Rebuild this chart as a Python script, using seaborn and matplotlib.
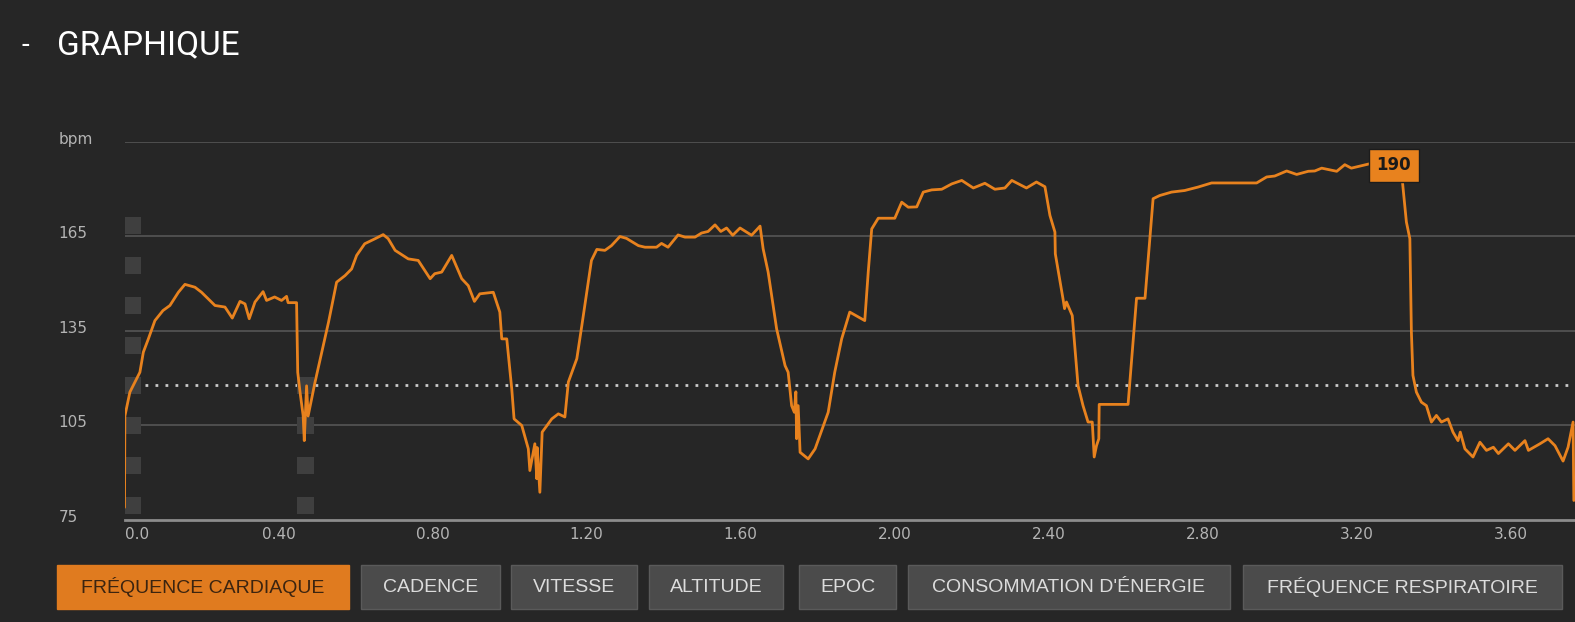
import matplotlib
matplotlib.use("Agg")
import matplotlib.pyplot as plt
import matplotlib.transforms as mtransforms
from matplotlib.patches import Rectangle
import seaborn as sns

# heart rate trace (x axis units as shown, bpm)
hr_x = [0.000, 0.001, 0.014, 0.040, 0.049, 0.062, 0.079, 0.100, 0.118, 0.140,
        0.157, 0.183, 0.200, 0.235, 0.261, 0.280, 0.300, 0.313, 0.324, 0.339,
        0.360, 0.369, 0.390, 0.408, 0.421, 0.425, 0.447, 0.450, 0.456, 0.464,
        0.467, 0.473, 0.477, 0.495, 0.530, 0.551, 0.573, 0.590, 0.603, 0.624,
        0.651, 0.672, 0.685, 0.703, 0.737, 0.763, 0.794, 0.806, 0.824, 0.850,
        0.876, 0.893, 0.909, 0.923, 0.958, 0.975, 0.980, 0.993, 1.006, 1.012,
        1.032, 1.049, 1.053, 1.066, 1.071, 1.072, 1.079, 1.085, 1.110, 1.127,
        1.144, 1.153, 1.175, 1.188, 1.213, 1.227, 1.248, 1.265, 1.287, 1.304,
        1.335, 1.352, 1.382, 1.395, 1.412, 1.438, 1.456, 1.482, 1.499, 1.516,
        1.534, 1.549, 1.564, 1.580, 1.599, 1.629, 1.651, 1.659, 1.672, 1.694,
        1.716, 1.724, 1.733, 1.740, 1.744, 1.746, 1.750, 1.755, 1.776, 1.794,
        1.828, 1.845, 1.863, 1.884, 1.923, 1.932, 1.941, 1.958, 2.001, 2.019,
        2.036, 2.058, 2.075, 2.097, 2.123, 2.149, 2.175, 2.205, 2.235, 2.261,
        2.287, 2.305, 2.343, 2.369, 2.391, 2.404, 2.417, 2.418, 2.438, 2.442,
        2.447, 2.462, 2.477, 2.490, 2.503, 2.514, 2.519, 2.525, 2.531, 2.532,
        2.607, 2.629, 2.651, 2.672, 2.689, 2.720, 2.754, 2.789, 2.824, 2.941,
        2.967, 2.988, 3.019, 3.045, 3.075, 3.092, 3.110, 3.118, 3.149, 3.170,
        3.187, 3.235, 3.290, 3.319, 3.330, 3.339, 3.343, 3.347, 3.356, 3.369,
        3.382, 3.395, 3.408, 3.421, 3.438, 3.451, 3.464, 3.470, 3.482, 3.503,
        3.521, 3.538, 3.556, 3.569, 3.595, 3.612, 3.638, 3.647, 3.677, 3.698,
        3.716, 3.737, 3.750, 3.763, 3.765]
hr_bpm = [79.0, 108.0, 115.6, 121.9, 128.3, 132.5, 138.3, 141.5, 143.1, 147.3,
          149.8, 148.9, 147.3, 143.1, 142.6, 139.1, 144.4, 143.6, 138.9, 144.2,
          147.5, 144.7, 145.8, 144.7, 146.0, 144.0, 144.0, 121.9, 115.6, 108.2,
          100.2, 117.6, 108.0, 118.8, 137.8, 150.5, 152.6, 154.7, 159.0, 162.7,
          164.3, 165.6, 164.3, 160.6, 157.9, 157.4, 151.6, 153.2, 153.7, 159.0,
          151.6, 149.4, 144.4, 146.8, 147.3, 141.0, 132.5, 132.5, 116.6, 107.1,
          105.0, 97.6, 90.7, 99.2, 88.1, 98.0, 83.8, 102.9, 107.1, 108.7,
          107.7, 118.8, 126.2, 136.7, 157.4, 160.9, 160.6, 162.1, 165.0, 164.4,
          162.1, 161.6, 161.6, 162.8, 161.6, 165.5, 164.8, 164.8, 166.1, 166.6,
          168.7, 166.6, 167.7, 165.4, 167.7, 165.4, 168.3, 161.1, 153.7, 135.7,
          124.0, 121.9, 111.3, 109.2, 115.7, 100.8, 111.3, 96.5, 94.4, 97.6,
          109.2, 121.9, 132.5, 141.0, 138.3, 153.7, 167.4, 170.8, 170.8, 175.9,
          174.3, 174.4, 179.1, 179.8, 180.0, 181.7, 182.8, 180.4, 181.9, 180.0,
          180.4, 182.8, 180.4, 182.3, 180.8, 171.7, 166.4, 159.5, 145.2, 142.1,
          144.2, 139.9, 117.7, 111.3, 106.1, 106.1, 95.0, 98.6, 100.8, 111.7,
          111.7, 145.4, 145.4, 177.0, 178.0, 179.1, 179.6, 180.7, 182.0, 182.0,
          183.9, 184.2, 185.8, 184.7, 185.7, 185.8, 186.7, 186.5, 185.7, 187.8,
          186.7, 188.1, 190.0, 183.3, 169.6, 164.3, 134.6, 120.9, 115.6, 112.4,
          111.3, 106.1, 108.2, 106.1, 107.1, 102.9, 100.2, 102.9, 97.6, 95.0,
          99.7, 97.1, 98.1, 96.1, 99.2, 97.1, 100.2, 97.1, 99.2, 100.8,
          98.6, 93.7, 98.1, 106.1, 81.2]

avg_bpm = 117.7
max_bpm = 190
max_x = 3.297

# lap markers (square dashes)
lap_x = [0.022] * 8 + [0.469] * 4
lap_y = [168.5, 155.8, 143.1, 130.4, 117.7, 105.0, 92.3, 79.6,
         117.7, 105.0, 92.3, 79.6]

y_ticks = [75, 105, 135, 165, 195]
y_labels = ["75", "105", "135", "165", "bpm"]
x_ticks = [0.0, 0.4, 0.8, 1.2, 1.6, 2.0, 2.4, 2.8, 3.2, 3.6]
x_labels = ["0.0", "0.40", "0.80", "1.20", "1.60", "2.00", "2.40", "2.80", "3.20", "3.60"]

buttons = ["FRÉQUENCE CARDIAQUE", "CADENCE", "VITESSE", "ALTITUDE", "EPOC",
           "CONSOMMATION D'ÉNERGIE", "FRÉQUENCE RESPIRATOIRE"]
button_left = [57, 361, 511, 649, 799, 908, 1243]
button_right = [349, 500, 637, 783, 896, 1230, 1562]

bg = "#262626"
orange = "#e8821e"

sns.set_theme(style="dark")
plt.rcParams["font.family"] = ["DejaVu Sans"]

fig = plt.figure(figsize=(15.75, 6.22), dpi=100, facecolor=bg)
ax = fig.add_axes([124.5 / 1575, (622 - 520) / 622, 1 - 124.5 / 1575, (520 - 142) / 622])
ax.set_facecolor(bg)

for g in [105, 135, 165, 195]:
    ax.axhline(g, color="#525252", lw=1.3, zorder=1)
ax.axhline(avg_bpm, color="#c8c8c8", lw=2.0, ls=(0, (1, 2.6)), zorder=2)

sns.scatterplot(x=lap_x, y=lap_y, marker="s", s=150, color="#3f3f3f",
                edgecolor="none", ax=ax, zorder=3)
sns.lineplot(x=hr_x, y=hr_bpm, color=orange, lw=2.0, estimator=None,
             sort=False, ax=ax, zorder=4)

ax.text(max_x, 187.6, str(max_bpm), ha="center", va="center", fontsize=12,
        fontweight="bold", color="#1a1a1a", zorder=6,
        bbox=dict(boxstyle="square,pad=0.45", fc=orange, ec="#1c1c1c", lw=1))

ax.set_xlim(0, 3.768)
ax.set_ylim(75, 195)
ax.set_yticks(y_ticks)
ax.set_yticklabels(y_labels)
ax.set_xticks(x_ticks)
ax.set_xticklabels(x_labels)
ax.set_xlabel("")
ax.set_ylabel("")
ax.grid(False)
ax.tick_params(axis="y", length=0, pad=47.5, labelsize=11, labelcolor="#b4b4b4")
ax.tick_params(axis="x", length=0, pad=5, labelsize=11, labelcolor="#b4b4b4")
shift = mtransforms.ScaledTranslation(0, 3 / 72, fig.dpi_scale_trans)
for lab in ax.get_yticklabels():
    lab.set_horizontalalignment("left")
    lab.set_transform(lab.get_transform() + shift)
ax.get_xticklabels()[0].set_horizontalalignment("left")

for side in ["top", "right", "left"]:
    ax.spines[side].set_visible(False)
ax.spines["bottom"].set_color("#8c8c8c")
ax.spines["bottom"].set_linewidth(2)

# title
fig.text(22 / 1575, 1 - 45 / 622, "-", color="white", fontsize=20,
         va="center", ha="left", family=["Roboto", "DejaVu Sans"])
fig.text(57 / 1575, 1 - 45 / 622, "GRAPHIQUE", color="white", fontsize=24,
         va="center", ha="left", family=["Roboto", "DejaVu Sans"])

# buttons row
bax = fig.add_axes([0, 0, 1, 1], zorder=-1)
bax.set_xlim(0, 1575)
bax.set_ylim(622, 0)
bax.axis("off")
for i, name in enumerate(buttons):
    active = i == 0
    x0, x1 = button_left[i], button_right[i]
    bax.add_patch(Rectangle((x0, 565), x1 - x0, 44,
                            fc="#e07b1f" if active else "#4b4b4b",
                            ec="#5a5a5a" if not active else "#e07b1f", lw=1))
    bax.text((x0 + x1) / 2, 587, name, ha="center", va="center", fontsize=14,
             color="#3b2410" if active else "#dcdcdc",
             family=["Liberation Sans", "DejaVu Sans"])

fig.savefig("out.png", dpi=100, facecolor=bg)
